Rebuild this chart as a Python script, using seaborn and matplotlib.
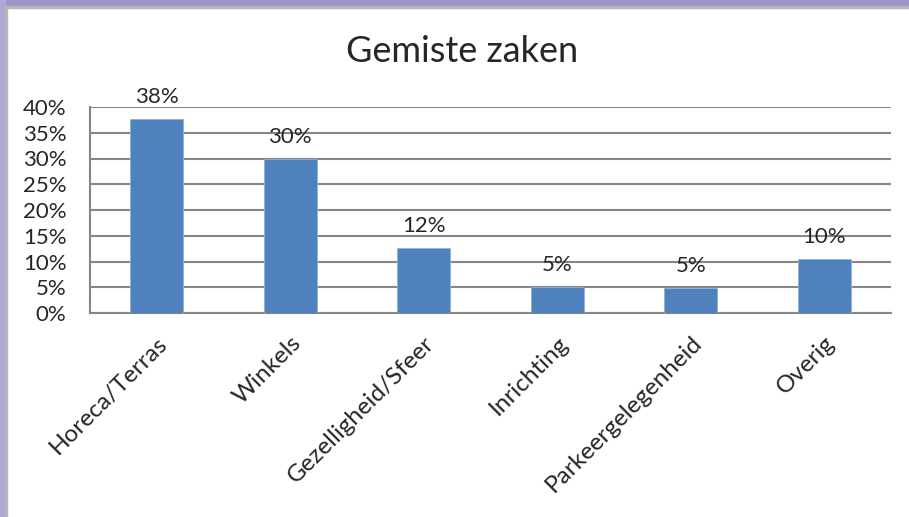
#!/usr/bin/env python3

import numpy as np
import pandas as pd
import seaborn as sns
import matplotlib.pyplot as plt
from matplotlib.patches import Rectangle
from matplotlib.ticker import FixedLocator, PercentFormatter

categories = ['Horeca/Terras', 'Winkels', 'Gezelligheid/Sfeer',
              'Inrichting', 'Parkeergelegenheid', 'Overig']
values = [0.377, 0.299, 0.126, 0.050, 0.049, 0.104]
labels = ['38%', '30%', '12%', '5%', '5%', '10%']
yticks = [0, 0.05, 0.10, 0.15, 0.20, 0.25, 0.30, 0.35, 0.40]

sns.set_style("white")
plt.rcParams['font.family'] = ['Lato', 'DejaVu Sans']

data = pd.DataFrame({'category': categories, 'value': values})

fig = plt.figure(figsize=(9.09, 5.17), dpi=100)
# slide frame
fig.patches.append(Rectangle((0, 1 - 6 / 517), 1, 6 / 517, transform=fig.transFigure,
                             color='#9e95c8', zorder=0))
fig.patches.append(Rectangle((0, 0), 5 / 909, 1, transform=fig.transFigure,
                             color='#aaa8d6', zorder=0))
fig.patches.append(Rectangle((5 / 909, 0), 2 / 909, 1 - 6 / 517, transform=fig.transFigure,
                             color='#b5b5b5', zorder=0))
fig.patches.append(Rectangle((5 / 909, 1 - 8 / 517), 1, 2 / 517, transform=fig.transFigure,
                             color='#b5b5b5', zorder=0))

ax = fig.add_axes([90 / 909, 1 - 313 / 517, 801 / 909, 206 / 517])
sns.barplot(data=data, x='category', y='value', color='#4f81bd',
            width=0.4, saturation=1, edgecolor='#8fb0d8', linewidth=0.6, ax=ax, zorder=3)

ax.set_ylim(0, 0.4)
ax.set_xlim(-0.5, len(categories) - 0.5)
ax.set_yticks(yticks)
ax.yaxis.set_major_formatter(PercentFormatter(1.0, decimals=0))
ax.yaxis.grid(True, color='#868686', linewidth=1.5, zorder=0)
ax.set_axisbelow(True)

for s in ['top', 'right']:
    ax.spines[s].set_visible(False)
for s in ['left', 'bottom']:
    ax.spines[s].set_color('#868686')
    ax.spines[s].set_linewidth(1.5)

ax.tick_params(axis='y', length=8, width=1.5, color='#868686', labelsize=16, pad=9)
ax.tick_params(axis='x', which='major', length=0, labelsize=17.5, pad=14)
ax.xaxis.set_minor_locator(FixedLocator(np.arange(-0.5, len(categories), 1.0)))
ax.tick_params(axis='x', which='minor', length=8, width=1.5, color='#868686')
plt.setp(ax.get_xticklabels(), rotation=45, ha='right', rotation_mode='anchor')

for i, (v, t) in enumerate(zip(values, labels)):
    ax.annotate(t, (i, v), xytext=(0, 11.5), textcoords='offset points',
                ha='center', va='baseline', fontsize=16)

ax.set_xlabel('')
ax.set_ylabel('')
fig.text(462 / 909, 1 - 52 / 517, 'Gemiste zaken', ha='center', va='center', fontsize=26)

plt.savefig('out.png', format='png')
